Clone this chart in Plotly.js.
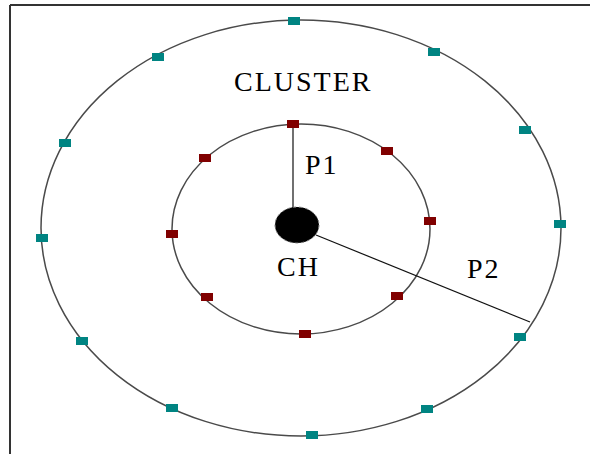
<!DOCTYPE html>
<html>
<head>
<meta charset="utf-8">
<script src="https://cdn.plot.ly/plotly-3.0.1.min.js"></script>
<style>
html,body{margin:0;padding:0;background:#fff;}
#chart{width:590px;height:454px;}
#chart .annotation-text{letter-spacing:2px;}
</style>
</head>
<body>
<div id="chart"></div>
<script>
// Node positions (pixel-space coordinates)
var outerX = [294, 434, 525, 560, 520, 427, 312, 172, 82, 42, 65, 158];
var outerY = [21, 52, 130, 224, 337, 409, 435, 408, 341, 238, 143, 57];
var innerX = [293, 387, 430, 397, 305, 207, 172, 205];
var innerY = [124, 151, 221, 296, 334, 297, 234, 158];

// Ellipse bounding boxes [x0, x1, y0, y1]
var outerBox = [41, 561, 20, 436];
var innerBox = [172, 430, 124, 334];
var chBox = [275, 319, 207, 243];

// Radius lines [x0, y0, x1, y1]
var p1Line = [293, 124, 293, 208];
var p2Line = [316, 235, 530, 322];

// Labels
var labelText = ["CLUSTER", "P1", "CH", "P2"];
var labelX = [303, 322, 298, 484];
var labelY = [81, 164, 266, 268];

var shapes = [];
// frame
shapes.push({type:'line', xref:'paper', yref:'paper', x0:10/590, x1:10/590, y0:0, y1:1-5/454, line:{color:'#333', width:2}});
shapes.push({type:'line', xref:'paper', yref:'paper', x0:10/590, x1:1, y0:1-5/454, y1:1-5/454, line:{color:'#333', width:2}});
// ellipses
shapes.push({type:'circle', x0:outerBox[0], x1:outerBox[1], y0:outerBox[2], y1:outerBox[3], line:{color:'#4a4a4a', width:1.5}});
shapes.push({type:'circle', x0:innerBox[0], x1:innerBox[1], y0:innerBox[2], y1:innerBox[3], line:{color:'#4a4a4a', width:1.5}});
// radius lines
shapes.push({type:'line', x0:p1Line[0], y0:p1Line[1], x1:p1Line[2], y1:p1Line[3], line:{color:'#111', width:1.2}});
shapes.push({type:'line', x0:p2Line[0], y0:p2Line[1], x1:p2Line[2], y1:p2Line[3], line:{color:'#111', width:1.2}});
// cluster head
shapes.push({type:'circle', x0:chBox[0], x1:chBox[1], y0:chBox[2], y1:chBox[3], fillcolor:'#000', line:{color:'#888', width:1, dash:'dot'}});
// nodes
function node(x, y, col) {
  return {type:'rect', xsizemode:'pixel', ysizemode:'pixel', xanchor:x, yanchor:y,
          x0:-6, x1:6, y0:-4, y1:4, fillcolor:col, line:{width:0}};
}
for (var i = 0; i < outerX.length; i++) shapes.push(node(outerX[i], outerY[i], '#008482'));
for (var j = 0; j < innerX.length; j++) shapes.push(node(innerX[j], innerY[j], '#800000'));

var annotations = labelText.map(function(t, k) {
  return {x:labelX[k], y:labelY[k], text:t, showarrow:false, xanchor:'center', yanchor:'middle',
          font:{family:'Liberation Serif, Times New Roman, serif', size:28, color:'#000'}};
});

var layout = {
  width:590, height:454,
  margin:{l:0, r:0, t:0, b:0},
  paper_bgcolor:'#fff', plot_bgcolor:'#fff',
  xaxis:{range:[0,590], visible:false, fixedrange:true},
  yaxis:{range:[454,0], visible:false, fixedrange:true},
  shapes:shapes,
  annotations:annotations,
  showlegend:false
};

Plotly.newPlot('chart', [{x:[], y:[], type:'scatter', mode:'markers', hoverinfo:'skip'}], layout, {staticPlot:true, displayModeBar:false});
</script>
</body>
</html>
